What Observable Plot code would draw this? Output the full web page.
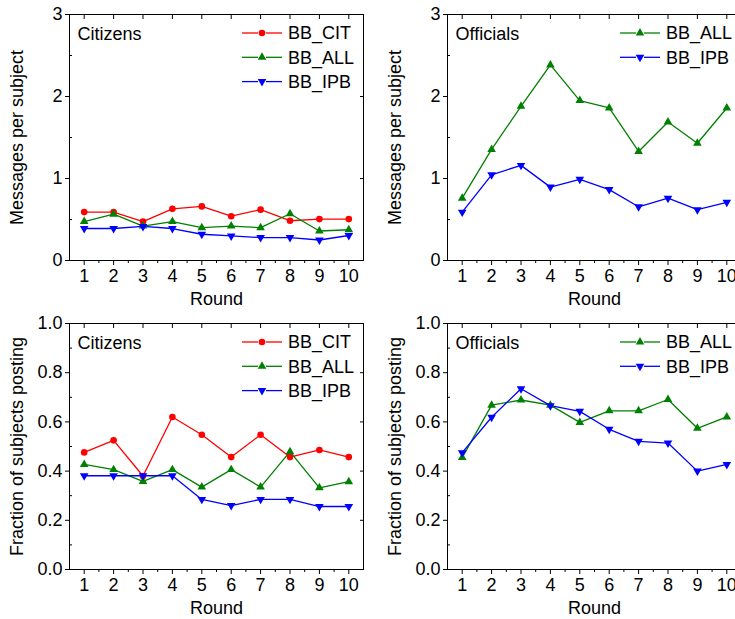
<!DOCTYPE html>
<html><head><meta charset="utf-8">
<script src="https://cdn.jsdelivr.net/npm/d3@7"></script>
<script src="https://cdn.jsdelivr.net/npm/@observablehq/plot@0.6"></script>
<style>
html,body{margin:0;padding:0;background:#fff;overflow:hidden;width:735px;height:619px}
#wrap{position:relative;width:735px;height:619px;overflow:hidden;background:#fff}
</style></head><body><div id="wrap"></div>
<script>
// ---- data ----
const rounds = [1,2,3,4,5,6,7,8,9,10];
const seriesNames = ["BB_CIT","BB_ALL","BB_IPB"];
const seriesColors = ["#ff0000","#008000","#0000ff"];

// Messages per subject – Citizens
const msgCitizensCIT = [0.59,0.59,0.475,0.63,0.66,0.54,0.62,0.485,0.505,0.505];
const msgCitizensALL = [0.475,0.565,0.42,0.475,0.40,0.42,0.40,0.57,0.36,0.375];
const msgCitizensIPB = [0.39,0.39,0.415,0.39,0.32,0.30,0.28,0.28,0.25,0.305];
// Messages per subject – Officials
const msgOfficialsALL = [0.76,1.355,1.88,2.385,1.95,1.86,1.33,1.69,1.43,1.86];
const msgOfficialsIPB = [0.59,1.045,1.16,0.895,0.99,0.865,0.655,0.76,0.62,0.71];
// Fraction of subjects posting – Citizens
const fracCitizensCIT = [0.476,0.525,0.380,0.620,0.548,0.457,0.548,0.457,0.486,0.457];
const fracCitizensALL = [0.427,0.406,0.358,0.406,0.335,0.406,0.335,0.479,0.332,0.357];
const fracCitizensIPB = [0.381,0.381,0.381,0.381,0.285,0.260,0.285,0.285,0.256,0.256];
// Fraction of subjects posting – Officials
const fracOfficialsALL = [0.455,0.668,0.689,0.668,0.598,0.645,0.645,0.691,0.574,0.620];
const fracOfficialsIPB = [0.475,0.619,0.735,0.666,0.643,0.570,0.521,0.514,0.400,0.427];

const msgTicks = [0,1,2,3];
const msgMinor = [0.5,1.5,2.5];
const fracTicks = [0,0.2,0.4,0.6,0.8,1.0];
const fracMinor = [0.1,0.3,0.5,0.7,0.9];
const xMinor = [1.5,2.5,3.5,4.5,5.5,6.5,7.5,8.5,9.5];

// ---- symbols ----
const triDown = {
  draw(context, size) {
    const y = -Math.sqrt(size / (Math.sqrt(3) * 3));
    context.moveTo(0, -y * 2);
    context.lineTo(-Math.sqrt(3) * y, y);
    context.lineTo(Math.sqrt(3) * y, y);
    context.closePath();
  }
};
const symbolOf = {BB_CIT: "circle", BB_ALL: "triangle", BB_IPB: triDown};
const rOf = {BB_CIT: 3.3, BB_ALL: 3.2, BB_IPB: 3.2};
const colorOf = Object.fromEntries(seriesNames.map((n,i)=>[n, seriesColors[i]]));

const FONT = "'Liberation Sans', Arial, Helvetica, sans-serif";
const FS = 18;
const wrap = document.getElementById("wrap");

function panel({left, top, width, height, marginLeft, marginRight, marginTop, marginBottom,
                yDomain, yTicks, yMinor, yFmt, yLabel, title, series}) {
  const data = series.flatMap(s => s.values.map((v,i) => ({round: rounds[i], value: v, name: s.name})));
  const marks = [
    Plot.axisX({ticks: rounds, tickSize: 5, tickPadding: 4, label: "Round", labelAnchor: "center",
                labelArrow: "none", labelOffset: 44}),
    Plot.axisX({ticks: xMinor, tickSize: 3, tickFormat: () => "", label: null}),
    Plot.axisX({anchor: "top", ticks: rounds, tickSize: -4, tickFormat: () => "", label: null}),
    Plot.axisY({ticks: yTicks, tickSize: 4, tickPadding: 3, tickFormat: yFmt, label: yLabel,
                labelAnchor: "center", labelArrow: "none", labelOffset: 59}),
    Plot.axisY({ticks: yMinor, tickSize: -3, tickFormat: () => "", label: null}),
    Plot.axisY({anchor: "right", ticks: yTicks, tickSize: -4, tickFormat: () => "", label: null}),
    Plot.frame({stroke: "black", strokeWidth: 1}),
    Plot.text([title], {frameAnchor: "top-left", dx: 8, dy: 13, lineAnchor: "top", textAnchor: "start",
                        fontSize: FS, fill: "black"})
  ];
  for (const s of series) {
    const d = data.filter(e => e.name === s.name);
    marks.push(Plot.line(d, {x: "round", y: "value", stroke: colorOf[s.name], strokeWidth: 1.3}));
  }
  for (const s of series) {
    const d = data.filter(e => e.name === s.name);
    marks.push(Plot.dot(d, {x: "round", y: "value", fill: colorOf[s.name], stroke: "none",
                            symbol: symbolOf[s.name], r: rOf[s.name]}));
  }
  const chart = Plot.plot({
    width, height, marginLeft, marginRight, marginTop, marginBottom,
    x: {domain: [0.5, 10.5], axis: null},
    y: {domain: yDomain, axis: null},
    style: {fontFamily: FONT, fontSize: FS + "px", color: "black", background: "white", overflow: "visible"},
    marks
  });
  chart.style.position = "absolute";
  chart.style.left = left + "px";
  chart.style.top = top + "px";
  wrap.appendChild(chart);

  // in-frame legend
  const svg = d3.select(chart);
  const xRight = width - marginRight;
  const g = svg.append("g").attr("font-family", FONT).attr("font-size", FS).attr("text-anchor", "start");
  series.forEach((s, i) => {
    const cy = marginTop + 19 + i * 24.3;
    const cx = xRight - 101;
    const c = colorOf[s.name];
    g.append("line").attr("x1", cx - 20).attr("x2", cx - 4).attr("y1", cy).attr("y2", cy)
      .attr("stroke", c).attr("stroke-width", 1.3);
    g.append("line").attr("x1", cx + 4).attr("x2", cx + 20).attr("y1", cy).attr("y2", cy)
      .attr("stroke", c).attr("stroke-width", 1.3);
    const sym = symbolOf[s.name];
    const type = sym === "circle" ? d3.symbolCircle : sym === "triangle" ? d3.symbolTriangle : sym;
    const r = rOf[s.name];
    g.append("path").attr("d", d3.symbol(type, r * r * Math.PI)()).attr("transform", `translate(${cx},${cy})`)
      .attr("fill", c);
    g.append("text").attr("x", cx + 26).attr("y", cy).attr("dy", "0.35em").attr("fill", "black")
      .attr("text-anchor", "start").text(s.name);
  });
}

const fmt0 = d => d3.format("d")(d);
const fmt1 = d => d3.format(".1f")(d);

panel({left: 0, top: 0, width: 380, height: 310, marginLeft: 69, marginRight: 17, marginTop: 14, marginBottom: 50,
  yDomain: [0,3], yTicks: msgTicks, yMinor: msgMinor, yFmt: fmt0, yLabel: "Messages per subject", title: "Citizens",
  series: [{name: "BB_CIT", values: msgCitizensCIT}, {name: "BB_ALL", values: msgCitizensALL}, {name: "BB_IPB", values: msgCitizensIPB}]});
panel({left: 380, top: 0, width: 375, height: 310, marginLeft: 67, marginRight: 14, marginTop: 14, marginBottom: 50,
  yDomain: [0,3], yTicks: msgTicks, yMinor: msgMinor, yFmt: fmt0, yLabel: "Messages per subject", title: "Officials",
  series: [{name: "BB_ALL", values: msgOfficialsALL}, {name: "BB_IPB", values: msgOfficialsIPB}]});
panel({left: 0, top: 310, width: 380, height: 309, marginLeft: 69, marginRight: 17, marginTop: 13, marginBottom: 50,
  yDomain: [0,1], yTicks: fracTicks, yMinor: fracMinor, yFmt: fmt1, yLabel: "Fraction of subjects posting", title: "Citizens",
  series: [{name: "BB_CIT", values: fracCitizensCIT}, {name: "BB_ALL", values: fracCitizensALL}, {name: "BB_IPB", values: fracCitizensIPB}]});
panel({left: 380, top: 310, width: 375, height: 309, marginLeft: 67, marginRight: 14, marginTop: 13, marginBottom: 50,
  yDomain: [0,1], yTicks: fracTicks, yMinor: fracMinor, yFmt: fmt1, yLabel: "Fraction of subjects posting", title: "Officials",
  series: [{name: "BB_ALL", values: fracOfficialsALL}, {name: "BB_IPB", values: fracOfficialsIPB}]});
</script></body></html>
